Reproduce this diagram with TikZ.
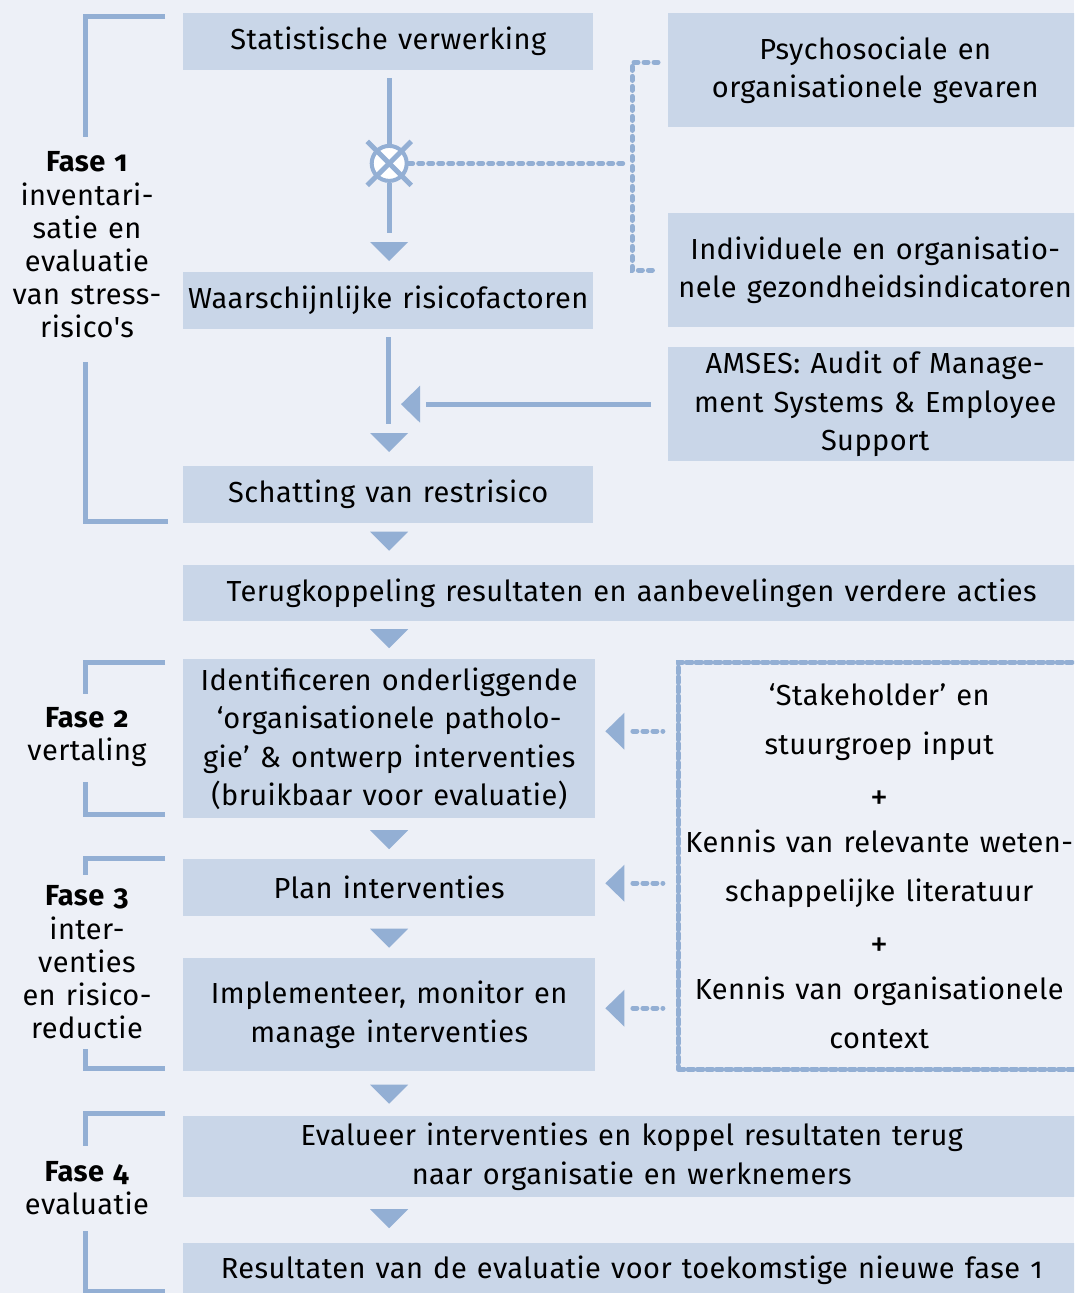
\documentclass[tikz,border=0pt]{standalone}
\usepackage{fontspec}
\setmainfont{Fira Sans}[Numbers=OldStyle,Ligatures=TeXOff,LetterSpace=1.5,WordSpace=1.25]
\usetikzlibrary{calc}
\definecolor{bg}{HTML}{EDF0F7}
\definecolor{boxc}{HTML}{C9D6E8}
\definecolor{linec}{HTML}{93AFD4}
\tikzset{
  box/.style={fill=boxc, inner sep=0pt, align=center, anchor=north west,
    font=\fontsize{29}{38.5}\selectfont},
  phase/.style={align=center, inner sep=0pt, font=\fontsize{29}{33.2}\selectfont},
  solidline/.style={draw=linec, line width=5pt},
  dashline/.style={draw=linec, line width=5pt, line cap=round, dash pattern=on 4pt off 6pt},
}
\newcommand\downtri[1]{\fill[linec] ($(#1)+(-19,-9.5)$) -- ($(#1)+(19,-9.5)$) -- ($(#1)+(0,9.5)$) -- cycle;}
\newcommand\lefttri[1]{\fill[linec] ($(#1)+(0,-18.5)$) -- ($(#1)+(0,18.5)$) -- ($(#1)+(-19,0)$) -- cycle;}
\newcommand\plussign{\raisebox{-6pt}{\addfontfeatures{Numbers=Lining}\fontsize{36}{49}\selectfont +}}
\begin{document}
\begin{tikzpicture}[x=1pt,y=-1pt]
\useasboundingbox (0,0) rectangle (1074,1293);
\fill[bg] (0,0) rectangle (1074,1293);
\clip (0,0) rectangle (1074,1293);

% boxes
\node[box, minimum width=410, minimum height=57] (stat) at (183,13) {Statistische verwerking};
\node[box, minimum width=414, minimum height=114] (psy) at (668,13) {Psychosociale en\\organisationele gevaren};
\node[box, minimum width=414, minimum height=114] (ind) at (668,213) {Individuele en organisatio-\\nele gezondheidsindicatoren};
\node[box, minimum width=410, minimum height=57] (wahr) at (183,272) {Waarschijnlijke risicofactoren};
\node[box, minimum width=414, minimum height=114] (amses) at (668,347) {AMSES: Audit of Manage-\\ment Systems \& Employee\\Support};
\node[box, minimum width=410, minimum height=57] (scha) at (183,466) {Schatting van restrisico};
\node[box, minimum width=897, minimum height=56] (terug) at (183,565) {Terugkoppeling resultaten en aanbevelingen verdere acties};
\node[box, minimum width=412, minimum height=159] (ident) at (183,659) {Identificeren onderliggende\\‘organisationele patholo-\\gie’ \& ontwerp interventies\\(bruikbaar voor evaluatie)};
\node[box, minimum width=412, minimum height=57] (plan) at (183,859) {Plan interventies};
\node[box, minimum width=412, minimum height=113] (impl) at (183,958) {Implementeer, monitor en\\manage interventies};
\node[box, minimum width=897, minimum height=81] (eval) at (183,1116) {Evalueer interventies en koppel resultaten terug\\naar organisatie en werknemers};
\node[box, minimum width=897, minimum height=54] (res) at (183,1243) {Resultaten van de evaluatie voor toekomstige nieuwe fase 1};

\node[draw=linec, line width=4.5pt, line cap=round, dash pattern=on 6pt off 3.5pt,
  minimum width=402, minimum height=407, anchor=north west, align=center, inner sep=0pt,
  font=\fontsize{29}{49}\selectfont] (know) at (676,660)
  {‘Stakeholder’ en\\stuurgroep input\\\plussign\\Kennis van relevante weten-\\schappelijke literatuur\\\plussign\\Kennis van organisationele\\context};

% phase labels
\node[phase] (f1) at (87,245) {\textbf{Fase 1}\\inventari-\\satie en\\evaluatie\\van stress-\\risico's};
\node[phase] (f2) at (87,737) {\textbf{Fase 2}\\vertaling};
\node[phase] (f3) at (87,962.5) {\textbf{Fase 3}\\inter-\\venties\\en risico-\\reductie};
\node[phase] (f4) at (87,1188) {\textbf{Fase 4}\\evaluatie};

% phase brackets
\draw[solidline] (165,16.5) -- (85,16.5) -- (85,137);
\draw[solidline] (85,362) -- (85,521) -- (168,521);
\draw[solidline] (165,662) -- (85,662) -- (85,694);
\draw[solidline] (85,782) -- (85,814.5) -- (165,814.5);
\draw[solidline] (165,858) -- (85,858) -- (85,875);
\draw[solidline] (85,1049) -- (85,1068.5) -- (165,1068.5);
\draw[solidline] (165,1113) -- (85,1113) -- (85,1146);
\draw[solidline] (85,1231) -- (85,1291) -- (165,1291);

% first connector with merge symbol
\node[circle, draw=linec, line width=4pt, fill=white, minimum size=35, inner sep=0pt] (cx) at ($(stat.south)+(1,93)$) {};
\draw[solidline] ($(stat.south)+(1,8)$) -- (cx.north);
\draw[solidline] (cx.south) -- ++(0,50.5);
\draw[draw=linec, line width=5pt] ($(cx.center)+(-22,-22)$) -- ($(cx.center)+(22,22)$);
\draw[draw=linec, line width=5pt] ($(cx.center)+(-22,22)$) -- ($(cx.center)+(22,-22)$);
\downtri{$(wahr.north)+(1,-20.5)$}

% dashed bracket from inputs
\coordinate (bk) at ($(cx.center)+(243,0)$);
\draw[dashline] (cx.east) -- ($(bk)+(-8,0)$);
\draw[dashline] ($(psy.west)+(-10,-8)$) -- ($(bk|-psy.west)+(0,-8)$) -- ($(bk|-ind.west)+(0,0)$) -- ($(ind.west)+(-10,0)$);

% second connector with AMSES
\draw[solidline] ($(wahr.south)+(0,8)$) -- ($(scha.north)+(0,-42)$);
\downtri{$(scha.north)+(1,-23.5)$}
\draw[solidline] ($(amses.west)+(-17,0)$) -- ($(amses.west)+(-242,0)$);
\lefttri{$(amses.west)+(-248,0)$}

% triangles between boxes
\downtri{$(scha.south)!0.5!(scha.south|-terug.north)+(1,-3)$}
\downtri{$(scha.south|-terug.south)!0.5!(scha.south|-ident.north)+(1,-1.5)$}
\downtri{$(ident.south)!0.5!(ident.south|-plan.north)+(0,1)$}
\downtri{$(plan.south)!0.5!(plan.south|-impl.north)+(0,1)$}
\downtri{$(impl.south)!0.5!(impl.south|-eval.north)+(0,0.5)$}
\downtri{$(scha.south|-eval.south)!0.5!(scha.south|-res.north)+(1,-1.5)$}

% dashed input arrows
\draw[dashline] ($(ident.east)+(37.5,-7.5)$) -- ++(30,0);
\lefttri{$(ident.east)+(29,-7.5)$}
\draw[dashline] ($(plan.east)+(37.5,-4.5)$) -- ++(30,0);
\lefttri{$(plan.east)+(29,-4.5)$}
\draw[dashline] ($(impl.east)+(37.5,-6.5)$) -- ++(30,0);
\lefttri{$(impl.east)+(29,-6.5)$}
\end{tikzpicture}
\end{document}
